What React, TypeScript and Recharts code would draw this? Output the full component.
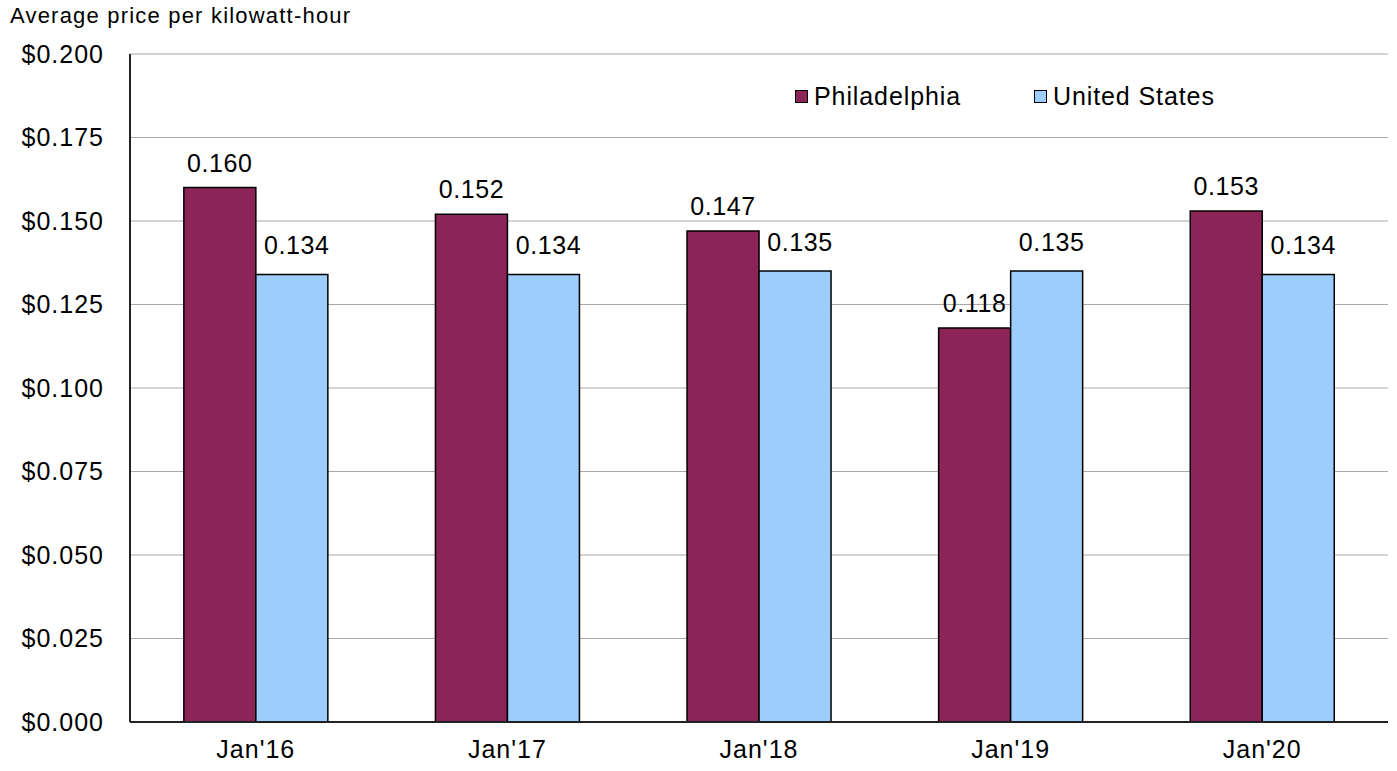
import { BarChart, Bar, XAxis, YAxis, CartesianGrid, LabelList } from "recharts";

const categories = ["Jan'16", "Jan'17", "Jan'18", "Jan'19", "Jan'20"];
const philadelphia = [0.16, 0.152, 0.147, 0.118, 0.153];
const unitedStates = [0.134, 0.134, 0.135, 0.135, 0.134];
const yTicks = [0, 0.025, 0.05, 0.075, 0.1, 0.125, 0.15, 0.175, 0.2];

const COLORS = {
  philadelphia: "#8c2457",
  unitedStates: "#9ccdfc",
};

const FONT = "'Liberation Sans', Arial, sans-serif";

const data = categories.map((name, i) => ({
  name,
  philadelphia: philadelphia[i],
  unitedStates: unitedStates[i],
}));

function makeLabel(dx: number, lift: number) {
  return function ValueLabel(props: any) {
    const { x, y, width, value } = props;
    return (
      <text
        x={x + width / 2 + dx}
        y={y - lift}
        textAnchor="middle"
        fontSize={25}
        letterSpacing={0.6}
        fill="#000"
        fontFamily={FONT}
      >
        {Number(value).toFixed(3)}
      </text>
    );
  };
}

const PhilLabel = makeLabel(0, 16);
const UsLabel = makeLabel(5, 20);

const legendItems = [
  { label: "Philadelphia", color: COLORS.philadelphia, left: 795 },
  { label: "United States", color: COLORS.unitedStates, left: 1034 },
];

export default function App() {
  const tickStyle = { fontSize: 25, fill: "#000", fontFamily: FONT, letterSpacing: 1 };
  return (
    <div style={{ position: "absolute", top: 0, left: 0, width: 1397, height: 771, background: "#fff" }}>
      <BarChart
        width={1397}
        height={771}
        data={data}
        margin={{ top: 54, right: 9, left: 10, bottom: 9 }}
        barCategoryGap="21.4%"
        barGap={0}
      >
        <CartesianGrid vertical={false} stroke="#a8a8a8" yAxisId="l" />
        <XAxis
          dataKey="name"
          height={40}
          tickSize={0}
          tickMargin={18}
          axisLine={{ stroke: "#222", strokeWidth: 2 }}
          tick={tickStyle}
        />
        <YAxis
          yAxisId="l"
          width={120}
          domain={[0, 0.2]}
          ticks={yTicks}
          tickSize={0}
          tickMargin={26}
          axisLine={{ stroke: "#222", strokeWidth: 2 }}
          tickFormatter={(v: number) => `$${v.toFixed(3)}`}
          tick={tickStyle}
        />
        <YAxis
          yAxisId="r"
          orientation="right"
          width={0}
          domain={[0, 0.2]}
          tick={false}
          tickLine={false}
          axisLine={{ stroke: "#b8a8c8", strokeWidth: 1.5 }}
        />
        <Bar
          yAxisId="l"
          dataKey="philadelphia"
          name="Philadelphia"
          fill={COLORS.philadelphia}
          stroke="#000"
          strokeWidth={1.5}
          isAnimationActive={false}
        >
          <LabelList dataKey="philadelphia" content={<PhilLabel />} />
        </Bar>
        <Bar
          yAxisId="l"
          dataKey="unitedStates"
          name="United States"
          fill={COLORS.unitedStates}
          stroke="#000"
          strokeWidth={1.5}
          isAnimationActive={false}
        >
          <LabelList dataKey="unitedStates" content={<UsLabel />} />
        </Bar>
      </BarChart>
      <div
        style={{
          position: "absolute",
          left: 10,
          top: 3,
          fontFamily: FONT,
          fontSize: 22,
          letterSpacing: 1.2,
          color: "#000",
        }}
      >
        Average price per kilowatt-hour
      </div>
      {legendItems.map((it) => (
        <div
          key={it.label}
          style={{
            position: "absolute",
            left: it.left,
            top: 82,
            display: "flex",
            alignItems: "center",
            fontFamily: FONT,
            fontSize: 25,
            letterSpacing: 0.9,
            color: "#000",
            background: "#fff",
          }}
        >
          <span
            style={{
              display: "inline-block",
              width: 11,
              height: 11,
              background: it.color,
              border: "1.5px solid #000",
              marginRight: 6,
            }}
          />
          <span>{it.label}</span>
        </div>
      ))}
    </div>
  );
}
